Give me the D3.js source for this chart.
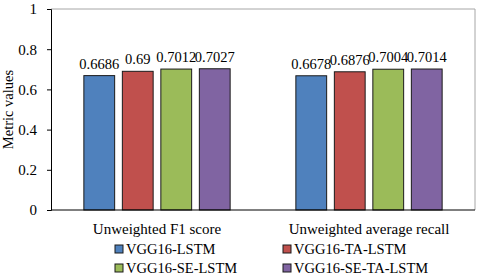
<!DOCTYPE html>
<html>
<head>
<meta charset="utf-8">
<script src="https://cdn.jsdelivr.net/npm/d3@7"></script>
<style>
  body { margin: 0; background: #fff; }
  svg text { font-family: 'Liberation Serif', 'Times New Roman', Times, serif !important; }
</style>
</head>
<body>
<svg id="chart" width="480" height="277"></svg>
<script>
const categories = ['Unweighted F1 score', 'Unweighted average recall'];
const seriesNames = ['VGG16-LSTM', 'VGG16-TA-LSTM', 'VGG16-SE-LSTM', 'VGG16-SE-TA-LSTM'];
const seriesColors = ['#4f81bd', '#c0504d', '#9bbb59', '#8064a2'];
const values = [
  [0.6686, 0.69, 0.7012, 0.7027],
  [0.6678, 0.6876, 0.7004, 0.7014],
];
const labels = [
  ['0.6686', '0.69', '0.7012', '0.7027'],
  ['0.6678', '0.6876', '0.7004', '0.7014'],
];
const yTicks = [0, 0.2, 0.4, 0.6, 0.8, 1];

const svg = d3.select('#chart');
const m = { left: 51, right: 5, top: 9, bottom: 67 };
const W = 480, H = 277;

const x0 = d3.scaleBand().domain(categories).range([m.left, W - m.right]).paddingInner(0.31).paddingOuter(0.155);
const x1 = d3.scaleBand().domain(seriesNames).range([0, x0.bandwidth()]).paddingInner(0.2);
const y = d3.scaleLinear().domain([0, 1]).range([H - m.bottom, m.top]);

// frame (top + right)
svg.append('path')
  .attr('d', `M${m.left},${m.top}H${W - m.right}V${H - m.bottom}`)
  .attr('fill', 'none').attr('stroke', '#a6a6a6').attr('stroke-width', 1);

// bars
const groups = svg.selectAll('g.grp').data(categories).enter().append('g')
  .attr('transform', c => `translate(${x0(c)},0)`);

groups.each(function (c, ci) {
  const g = d3.select(this);
  g.selectAll('rect').data(values[ci]).enter().append('rect')
    .attr('x', (d, i) => x1(seriesNames[i]))
    .attr('y', d => y(d))
    .attr('width', x1.bandwidth())
    .attr('height', d => y(0) - y(d))
    .attr('fill', (d, i) => seriesColors[i])
    .attr('stroke', '#1a1a1a').attr('stroke-width', 1);
  g.selectAll('text').data(values[ci]).enter().append('text')
    .attr('x', (d, i) => x1(seriesNames[i]) + x1.bandwidth() / 2)
    .attr('y', d => y(d) - 7)
    .attr('text-anchor', 'middle')
    .attr('font-size', 14.5)
    .attr('fill', '#000')
    .text((d, i) => labels[ci][i]);
});

// y axis
const yAxis = svg.append('g').attr('transform', `translate(${m.left},0)`)
  .call(d3.axisLeft(y).tickValues(yTicks).tickSize(4).tickPadding(10).tickFormat(d3.format('~g')));
yAxis.select('.domain').attr('stroke', '#000');
yAxis.selectAll('.tick line').attr('stroke', '#000');
yAxis.selectAll('.tick text').attr('font-size', 15).attr('fill', '#000');

// x axis
const xAxis = svg.append('g').attr('transform', `translate(0,${y(0)})`)
  .call(d3.axisBottom(x0).tickSize(0).tickPadding(13));
xAxis.select('.domain').attr('stroke', '#000').attr('d', `M${m.left},0H${W - m.right}`);
xAxis.selectAll('.tick text').attr('font-size', 15).attr('fill', '#000');

// y title
svg.append('text')
  .attr('transform', `translate(13,${(y(0) + y(1)) / 2}) rotate(-90)`)
  .attr('text-anchor', 'middle')
  .attr('font-size', 14.5)
  .text('Metric values');

// legend
const legendX = [115, 283];
const legendY = [249, 268];
const leg = svg.selectAll('g.leg').data(seriesNames).enter().append('g')
  .attr('transform', (d, i) => `translate(${legendX[i % 2]},${legendY[Math.floor(i / 2)]})`);
leg.append('rect').attr('x', 0).attr('y', -4).attr('width', 8).attr('height', 8)
  .attr('fill', (d, i) => seriesColors[i]).attr('stroke', '#1a1a1a').attr('stroke-width', 1);
leg.append('text').attr('x', 11).attr('y', 5).attr('font-size', 14.5).text(d => d);
</script>
</body>
</html>
